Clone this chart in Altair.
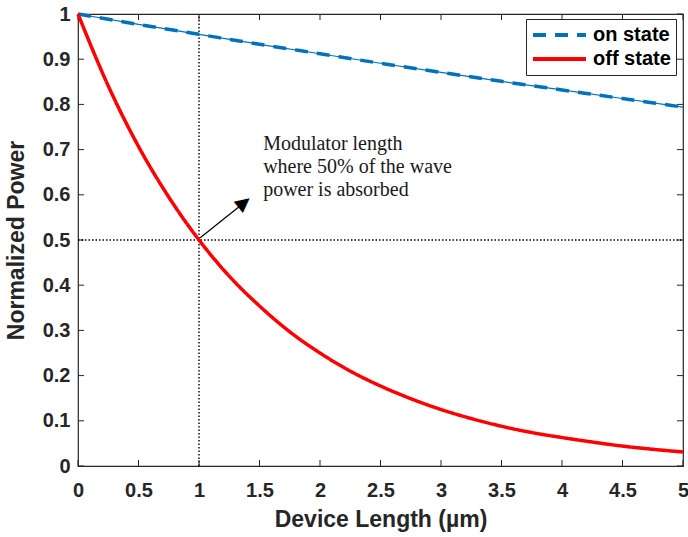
import altair as alt
import pandas as pd

# Device length axis (µm) and normalized transmitted power
x_off = [0, 0.25, 0.5, 0.75, 1, 1.25, 1.5, 1.75, 2, 2.25, 2.5, 2.75,
         3, 3.25, 3.5, 3.75, 4, 4.25, 4.5, 4.75, 5]
off_state = [1.000, 0.841, 0.707, 0.595, 0.500, 0.420, 0.354, 0.297, 0.250,
             0.210, 0.177, 0.149, 0.125, 0.105, 0.088, 0.074, 0.063, 0.053,
             0.044, 0.037, 0.031]
x_on = [0, 0.5, 1, 1.5, 2, 2.5, 3, 3.5, 4, 4.5, 5]
on_state = [1.000, 0.977, 0.955, 0.933, 0.912, 0.891, 0.871, 0.851, 0.832,
            0.813, 0.794]

x_ticks = [0, 0.5, 1, 1.5, 2, 2.5, 3, 3.5, 4, 4.5, 5]
y_ticks = [0, 0.1, 0.2, 0.3, 0.4, 0.5, 0.6, 0.7, 0.8, 0.9, 1]

# 50 % absorption guide and annotation
half_length = 1.0
half_power = 0.5
arrow_x = [1.01, 1.37]
arrow_y = [0.505, 0.582]
head_x = 1.378
head_y = 0.584
note_x = 1.53
note_y = 0.699
note_text = "Modulator length\nwhere 50% of the wave\npower is absorbed"

states = ["on state", "off state"]
colors = ["#0072BD", "#FF0000"]
dashes = [[13, 9], [1, 0]]

curves = pd.DataFrame({
    "length": x_on + x_off,
    "power": on_state + off_state,
    "state": ["on state"] * len(x_on) + ["off state"] * len(x_off),
})
on_df = pd.DataFrame({"length": x_on, "power": on_state})
xt_df = pd.DataFrame({"length": x_ticks})
yt_df = pd.DataFrame({"power": y_ticks})
vline = pd.DataFrame({"length": [half_length, half_length], "power": [0, 1]})
hline = pd.DataFrame({"length": [0, 5], "power": [half_power, half_power]})
arrow_df = pd.DataFrame({"length": arrow_x, "power": arrow_y})
head_df = pd.DataFrame({"length": [head_x], "power": [head_y], "glyph": ["▲"]})
note_df = pd.DataFrame({"length": [note_x], "power": [note_y], "text": [note_text]})

W, H = 605, 452
INK = "#262626"

x_enc = alt.X(
    "length:Q",
    scale=alt.Scale(domain=[0, 5], nice=False, zero=False),
    axis=alt.Axis(values=x_ticks, format="~g", title="Device Length (µm)",
                  labelPadding=14, titlePadding=8, labelFlush=False),
)
y_enc = alt.Y(
    "power:Q",
    scale=alt.Scale(domain=[0, 1], nice=False),
    axis=alt.Axis(values=y_ticks, format="~g", title="Normalized Power",
                  labelPadding=8, titlePadding=14, labelFlush=False),
)

legend = alt.Legend(title=None, orient="none", legendX=448, legendY=5)
lines = alt.Chart(curves).mark_line(
    strokeWidth=3.5, strokeCap="butt", interpolate="monotone"
).encode(
    x=x_enc,
    y=y_enc,
    color=alt.Color("state:N", scale=alt.Scale(domain=states, range=colors),
                    legend=legend),
    strokeDash=alt.StrokeDash("state:N", scale=alt.Scale(domain=states, range=dashes),
                              legend=legend),
)

on_thin = alt.Chart(on_df).mark_line(strokeWidth=1.2, color="#0072BD").encode(
    x=x_enc, y=y_enc
)

guide_style = dict(color="black", strokeWidth=1.4, strokeDash=[1.5, 2])
v_guide = alt.Chart(vline).mark_line(**guide_style).encode(x=x_enc, y=y_enc)
h_guide = alt.Chart(hline).mark_line(**guide_style).encode(x=x_enc, y=y_enc)

shaft = alt.Chart(arrow_df).mark_line(color="black", strokeWidth=1.2).encode(
    x=x_enc, y=y_enc
)
# arrowhead: a triangle glyph turned along the shaft direction
head = alt.Chart(head_df).mark_text(
    font="DejaVu Sans", fontSize=19, angle=51, align="center",
    baseline="middle", color="black",
).encode(x=x_enc, y=y_enc, text="glyph:N")

note = alt.Chart(note_df).mark_text(
    align="left", baseline="alphabetic", font="Liberation Serif",
    fontSize=20, lineHeight=23, lineBreak="\n", color="#1a1a1a",
).encode(x=x_enc, y=y_enc, text="text:N")

# inward-pointing tick marks on all four sides of the frame
tick_style = dict(color=INK, strokeWidth=1)
tx_bottom = alt.Chart(xt_df).mark_rule(**tick_style).encode(
    x=x_enc, y=alt.value(H), y2=alt.value(H - 6))
tx_top = alt.Chart(xt_df).mark_rule(**tick_style).encode(
    x=x_enc, y=alt.value(0), y2=alt.value(6))
ty_left = alt.Chart(yt_df).mark_rule(**tick_style).encode(
    y=y_enc, x=alt.value(0), x2=alt.value(6))
ty_right = alt.Chart(yt_df).mark_rule(**tick_style).encode(
    y=y_enc, x=alt.value(W), x2=alt.value(W - 6))

chart = alt.layer(
    tx_bottom, tx_top, ty_left, ty_right,
    v_guide, h_guide, on_thin, lines, shaft, head, note,
).properties(
    width=W, height=H,
    autosize=alt.AutoSizeParams(type="none"),
    padding={"left": 78, "top": 14, "right": 5, "bottom": 71},
).configure(
    font="Liberation Sans",
).configure_view(
    stroke=INK, strokeWidth=1.2,
).configure_axis(
    grid=False, ticks=False, domain=False,
    labelFont="Liberation Sans", labelFontSize=20, labelFontWeight="bold",
    labelColor=INK,
    titleFont="Liberation Sans", titleFontSize=23, titleFontWeight="bold",
    titleColor=INK,
).configure_legend(
    fillColor="white", strokeColor=INK, padding=5,
    labelFont="Liberation Sans", labelFontSize=20, labelFontWeight="bold",
    labelColor="black", labelOffset=5,
    symbolType="stroke", symbolSize=2809, symbolStrokeWidth=4,
    clipHeight=22, rowPadding=2, cornerRadius=0,
)

chart.save("out.html", embed_options={"renderer": "svg", "actions": False})
